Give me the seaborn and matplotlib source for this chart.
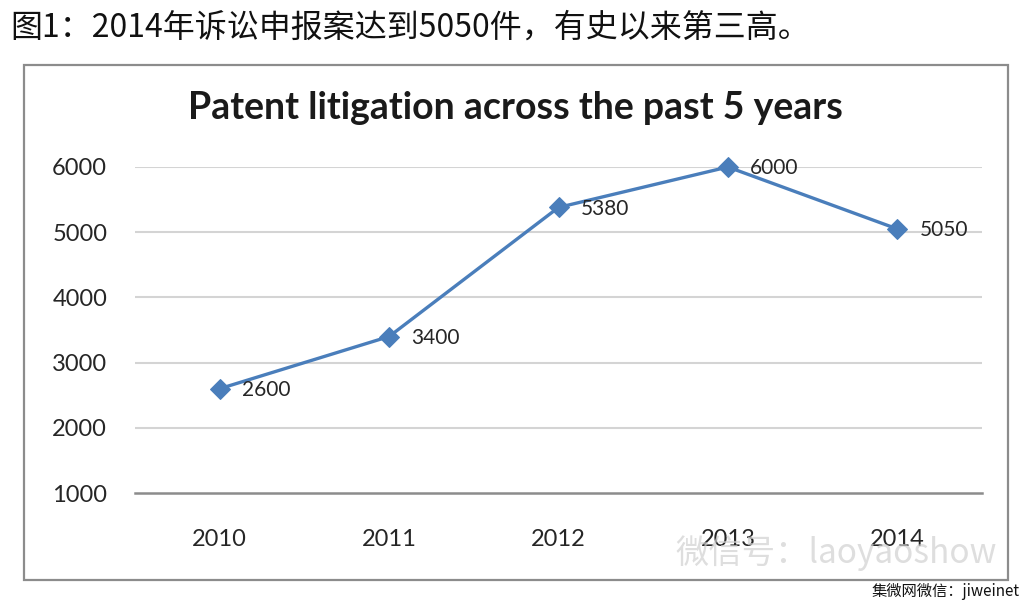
import matplotlib
matplotlib.use("Agg")
import matplotlib.pyplot as plt
import pandas as pd
import seaborn as sns
from matplotlib.patches import Rectangle

# chart data
years = ["2010", "2011", "2012", "2013", "2014"]
cases = [2600, 3400, 5380, 6000, 5050]
y_ticks = [1000, 2000, 3000, 4000, 5000, 6000]

page_title = "图1：2014年诉讼申报案达到5050件，有史以来第三高。"
chart_title = "Patent litigation across the past 5 years"
watermark = "微信号：laoyaoshow"
source_note = "集微网微信：jiweinet"

sns.set_theme(style="white")
plt.rcParams["font.family"] = ["Lato", "Noto Sans CJK SC", "DejaVu Sans"]

df = pd.DataFrame({"year": years, "cases": cases})
df["pos"] = range(len(df))

fig = plt.figure(figsize=(10.32, 6.08), dpi=100)
fig.patch.set_facecolor("white")

# chart frame
fig.patches.append(Rectangle((24 / 1032, 1 - 580 / 608), 984 / 1032, 515 / 608,
                             transform=fig.transFigure, fill=False,
                             edgecolor="#8c8c8c", linewidth=1.6))

ax = fig.add_axes([135 / 1032, 1 - 493 / 608, 847 / 1032, 326 / 608])
blue = "#4a7ebb"
sns.lineplot(data=df, x="pos", y="cases", ax=ax, color=blue, linewidth=2.4,
             marker="D", markersize=10, markeredgecolor=blue, clip_on=False)

for x, y in zip(df["pos"], df["cases"]):
    ax.annotate(str(y), (x, y), xytext=(16, -1), textcoords="offset points",
                ha="left", va="center", fontsize=15, color="#262626")

ax.set_xlim(-0.5, len(years) - 0.5)
ax.set_ylim(1000, 6000)
ax.set_yticks(y_ticks)
ax.set_xticks(range(len(years)))
ax.set_xticklabels(years)
ax.tick_params(axis="both", length=0, labelsize=17, colors="#262626")
ax.tick_params(axis="x", pad=26)
ax.tick_params(axis="y", pad=20)
ax.set_xlabel("")
ax.set_ylabel("")
for y in y_ticks[1:]:
    ax.axhline(y, color="#d4d4d4", linewidth=1.5, zorder=0)
for side in ["top", "right", "left"]:
    ax.spines[side].set_visible(False)
ax.spines["bottom"].set_color("#8c8c8c")
ax.spines["bottom"].set_linewidth(1.8)

fig.text(515 / 1032, 1 - 108 / 608, chart_title, ha="center", va="center",
         fontsize=27, fontweight="bold", color="#1a1a1a")
fig.text(10 / 1032, 1 - 28 / 608, page_title, ha="left", va="center",
         fontsize=23, color="#111111", family=["Noto Sans CJK SC", "DejaVu Sans"])
fig.text(675 / 1032, 1 - 553 / 608, watermark, ha="left", va="center",
         fontsize=24, color="#d0d0d0", alpha=0.7,
         family=["Noto Sans CJK SC", "DejaVu Sans"])
fig.text(1020 / 1032, 1 - 592 / 608, source_note, ha="right", va="center",
         fontsize=11, color="#111111", family=["Noto Sans CJK SC", "DejaVu Sans"])

fig.savefig("out.png", dpi=100)
